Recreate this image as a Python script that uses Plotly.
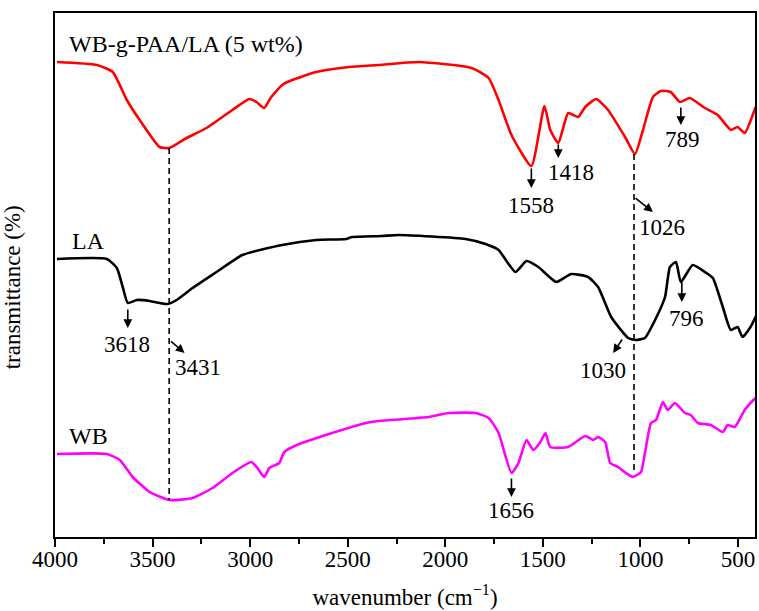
import plotly.graph_objects as go

# wavenumber (cm-1) and transmittance (arbitrary units)
wn_comp = [3990, 3785, 3704, 3632, 3566, 3464, 3413, 3326, 3224, 3091, 3004, 2968, 2928, 2892,
           2836, 2785, 2662, 2493, 2340, 2136, 1865, 1778, 1727, 1661, 1559, 1492, 1462, 1421,
           1370, 1319, 1283, 1227, 1166, 1079, 1028, 987, 936, 895, 845, 798, 747, 670, 604,
           537, 502, 466, 410]
t_comp = [475, 472, 465, 437, 417, 390, 389, 399, 409, 427, 438, 435, 429, 440,
          452, 457, 465, 470, 472, 475, 469, 459, 437, 402, 371, 431, 407, 394,
          424, 420, 430, 438, 427, 400, 383, 407, 440, 446, 445, 435, 439, 429, 422,
          407, 410, 404, 430]

wn_la = [3990, 3734, 3683, 3653, 3627, 3581, 3515, 3463, 3423, 3377, 3295, 3172, 3040, 2836,
         2662, 2509, 2478, 2325, 2238, 1896, 1794, 1727, 1641, 1584, 1523, 1431, 1355, 1268,
         1217, 1150, 1063, 1025, 977, 925, 874, 849, 818, 793, 732, 670, 629, 578, 537, 502,
         477, 436, 405]
t_la = [278, 278, 269, 250, 234, 237, 236, 234, 233, 237, 249, 265, 282, 292,
        297, 298, 300, 301, 302, 298, 293, 287, 265, 276, 270, 255, 263, 260,
        250, 220, 199, 197, 199, 217, 240, 270, 275, 255, 272, 265, 259, 230, 207, 210,
        200, 210, 222]

wn_wb = [3990, 3734, 3668, 3602, 3515, 3413, 3295, 3193, 3091, 2994, 2963, 2928, 2902, 2851,
         2825, 2749, 2580, 2407, 2340, 2085, 1983, 1845, 1778, 1727, 1661, 1625, 1584, 1549,
         1513, 1487, 1462, 1370, 1283, 1242, 1217, 1181, 1155, 1115, 1074, 1038, 997, 977,
         946, 920, 885, 860, 823, 772, 742, 706, 640, 578, 553, 517, 466, 436, 410]
t_wb = [83, 83, 77, 60, 45, 37, 39, 49, 64, 75, 69, 60, 69, 74,
        85, 93, 104, 114, 116, 120, 124, 124, 119, 104, 64, 74, 97, 87,
        95, 104, 90, 90, 101, 97, 100, 95, 74, 70, 64, 60, 65, 84,
        114, 117, 135, 127, 134, 124, 122, 114, 112, 105, 112, 110, 127, 134, 139]

series_names = ["WB-g-PAA/LA (5 wt%)", "LA", "WB"]
series_colors = ["#ff0000", "#000000", "#ff00ff"]

major_ticks = [4000, 3500, 3000, 2500, 2000, 1500, 1000, 500]
major_labels = ["4000", "3500", "3000", "2500", "2000", "1500", "1000", "500"]
minor_ticks = [3750, 3250, 2750, 2250, 1750, 1250, 750]

# peak labels: text, label pos (wn, t), arrow tail (wn, t), arrow head (wn, t)
peaks = [
    ("1558", 1559, 332, 1559, 370, 1559, 349),
    ("1418", 1355, 365, 1421, 394, 1421, 379),
    ("789", 783, 398, 793, 431, 793, 412),
    ("1026", 890, 310, 1033, 340, 936, 325),
    ("3618", 3632, 193, 3627, 229, 3627, 209),
    ("3431", 3265, 170, 3413, 197, 3336, 184),
    ("1030", 1191, 167, 1089, 199, 1140, 184),
    ("796", 762, 219, 788, 257, 788, 235),
    ("1656", 1661, 27, 1661, 60, 1661, 40),
]
name_pos = [(3939, 493), (3923, 296), (3939, 101)]
guide_lines = [(3415, 389, 37), (1033, 383, 64)]

FONT = "Liberation Serif"

fig = go.Figure()
for name, col, xs, ys in zip(series_names, series_colors,
                             [wn_comp, wn_la, wn_wb], [t_comp, t_la, t_wb]):
    fig.add_trace(go.Scatter(x=xs, y=ys, mode="lines", name=name,
                             line=dict(color=col, width=2.6, shape="spline", smoothing=0.5),
                             showlegend=False))
# invisible copy on the overlay axis that only carries the tick marks
fig.add_trace(go.Scatter(x=wn_wb, y=t_wb, xaxis="x2", mode="lines", opacity=0,
                         hoverinfo="skip", showlegend=False,
                         line=dict(color="rgba(0,0,0,0)", width=0)))

for x0, y0, y1 in guide_lines:
    fig.add_shape(type="line", xref="x", yref="y", x0=x0, x1=x0, y0=y0, y1=y1,
                  line=dict(color="black", width=1.6, dash="6px,4px"))

ann = []
for name, (x, y) in zip(series_names, name_pos):
    ann.append(dict(x=x, y=y, xref="x", yref="y", text=name, showarrow=False,
                    xanchor="left", yanchor="middle",
                    font=dict(family=FONT, size=24, color="black")))
for txt, lx, ly, tx, ty, hx, hy in peaks:
    ann.append(dict(x=lx, y=ly, xref="x", yref="y", text=txt, showarrow=False,
                    xanchor="center", yanchor="middle",
                    font=dict(family=FONT, size=23, color="black")))
    ann.append(dict(x=hx, y=hy, ax=tx, ay=ty, xref="x", yref="y", axref="x", ayref="y",
                    text="", showarrow=True, arrowhead=2, arrowsize=1.1, arrowwidth=1.6,
                    arrowcolor="black", standoff=0, startstandoff=0))
ann.append(dict(x=-0.061, y=0.477, xref="paper", yref="paper", text="transmittance (%)",
                showarrow=False, textangle=-90, xanchor="center", yanchor="middle",
                font=dict(family=FONT, size=23, color="black")))

fig.update_layout(
    width=759, height=611,
    margin=dict(l=55, r=2, t=13, b=74),
    paper_bgcolor="white", plot_bgcolor="white",
    annotations=ann,
    font=dict(family=FONT, size=23, color="black"),
    xaxis=dict(range=[4000, 413], tickvals=major_ticks, ticktext=major_labels,
               ticks="", showline=True, linewidth=2, linecolor="black", mirror=True,
               showgrid=False, zeroline=False,
               tickfont=dict(family=FONT, size=23, color="black"),
               title=dict(text="wavenumber (cm<sup>−1</sup>)", standoff=18,
                          font=dict(family=FONT, size=23, color="black"))),
    xaxis2=dict(range=[4000, 413], overlaying="x", anchor="y", side="bottom",
                tickvals=major_ticks, showticklabels=False,
                ticks="outside", ticklen=9, tickwidth=2, tickcolor="black",
                minor=dict(tickvals=minor_ticks, ticks="outside", ticklen=6,
                           tickwidth=2, tickcolor="black"),
                showline=False, showgrid=False, zeroline=False),
    yaxis=dict(range=[0, 524], showticklabels=False, ticks="",
               showline=True, linewidth=2, linecolor="black", mirror=True,
               showgrid=False, zeroline=False),
)

fig.write_html("out.html")
